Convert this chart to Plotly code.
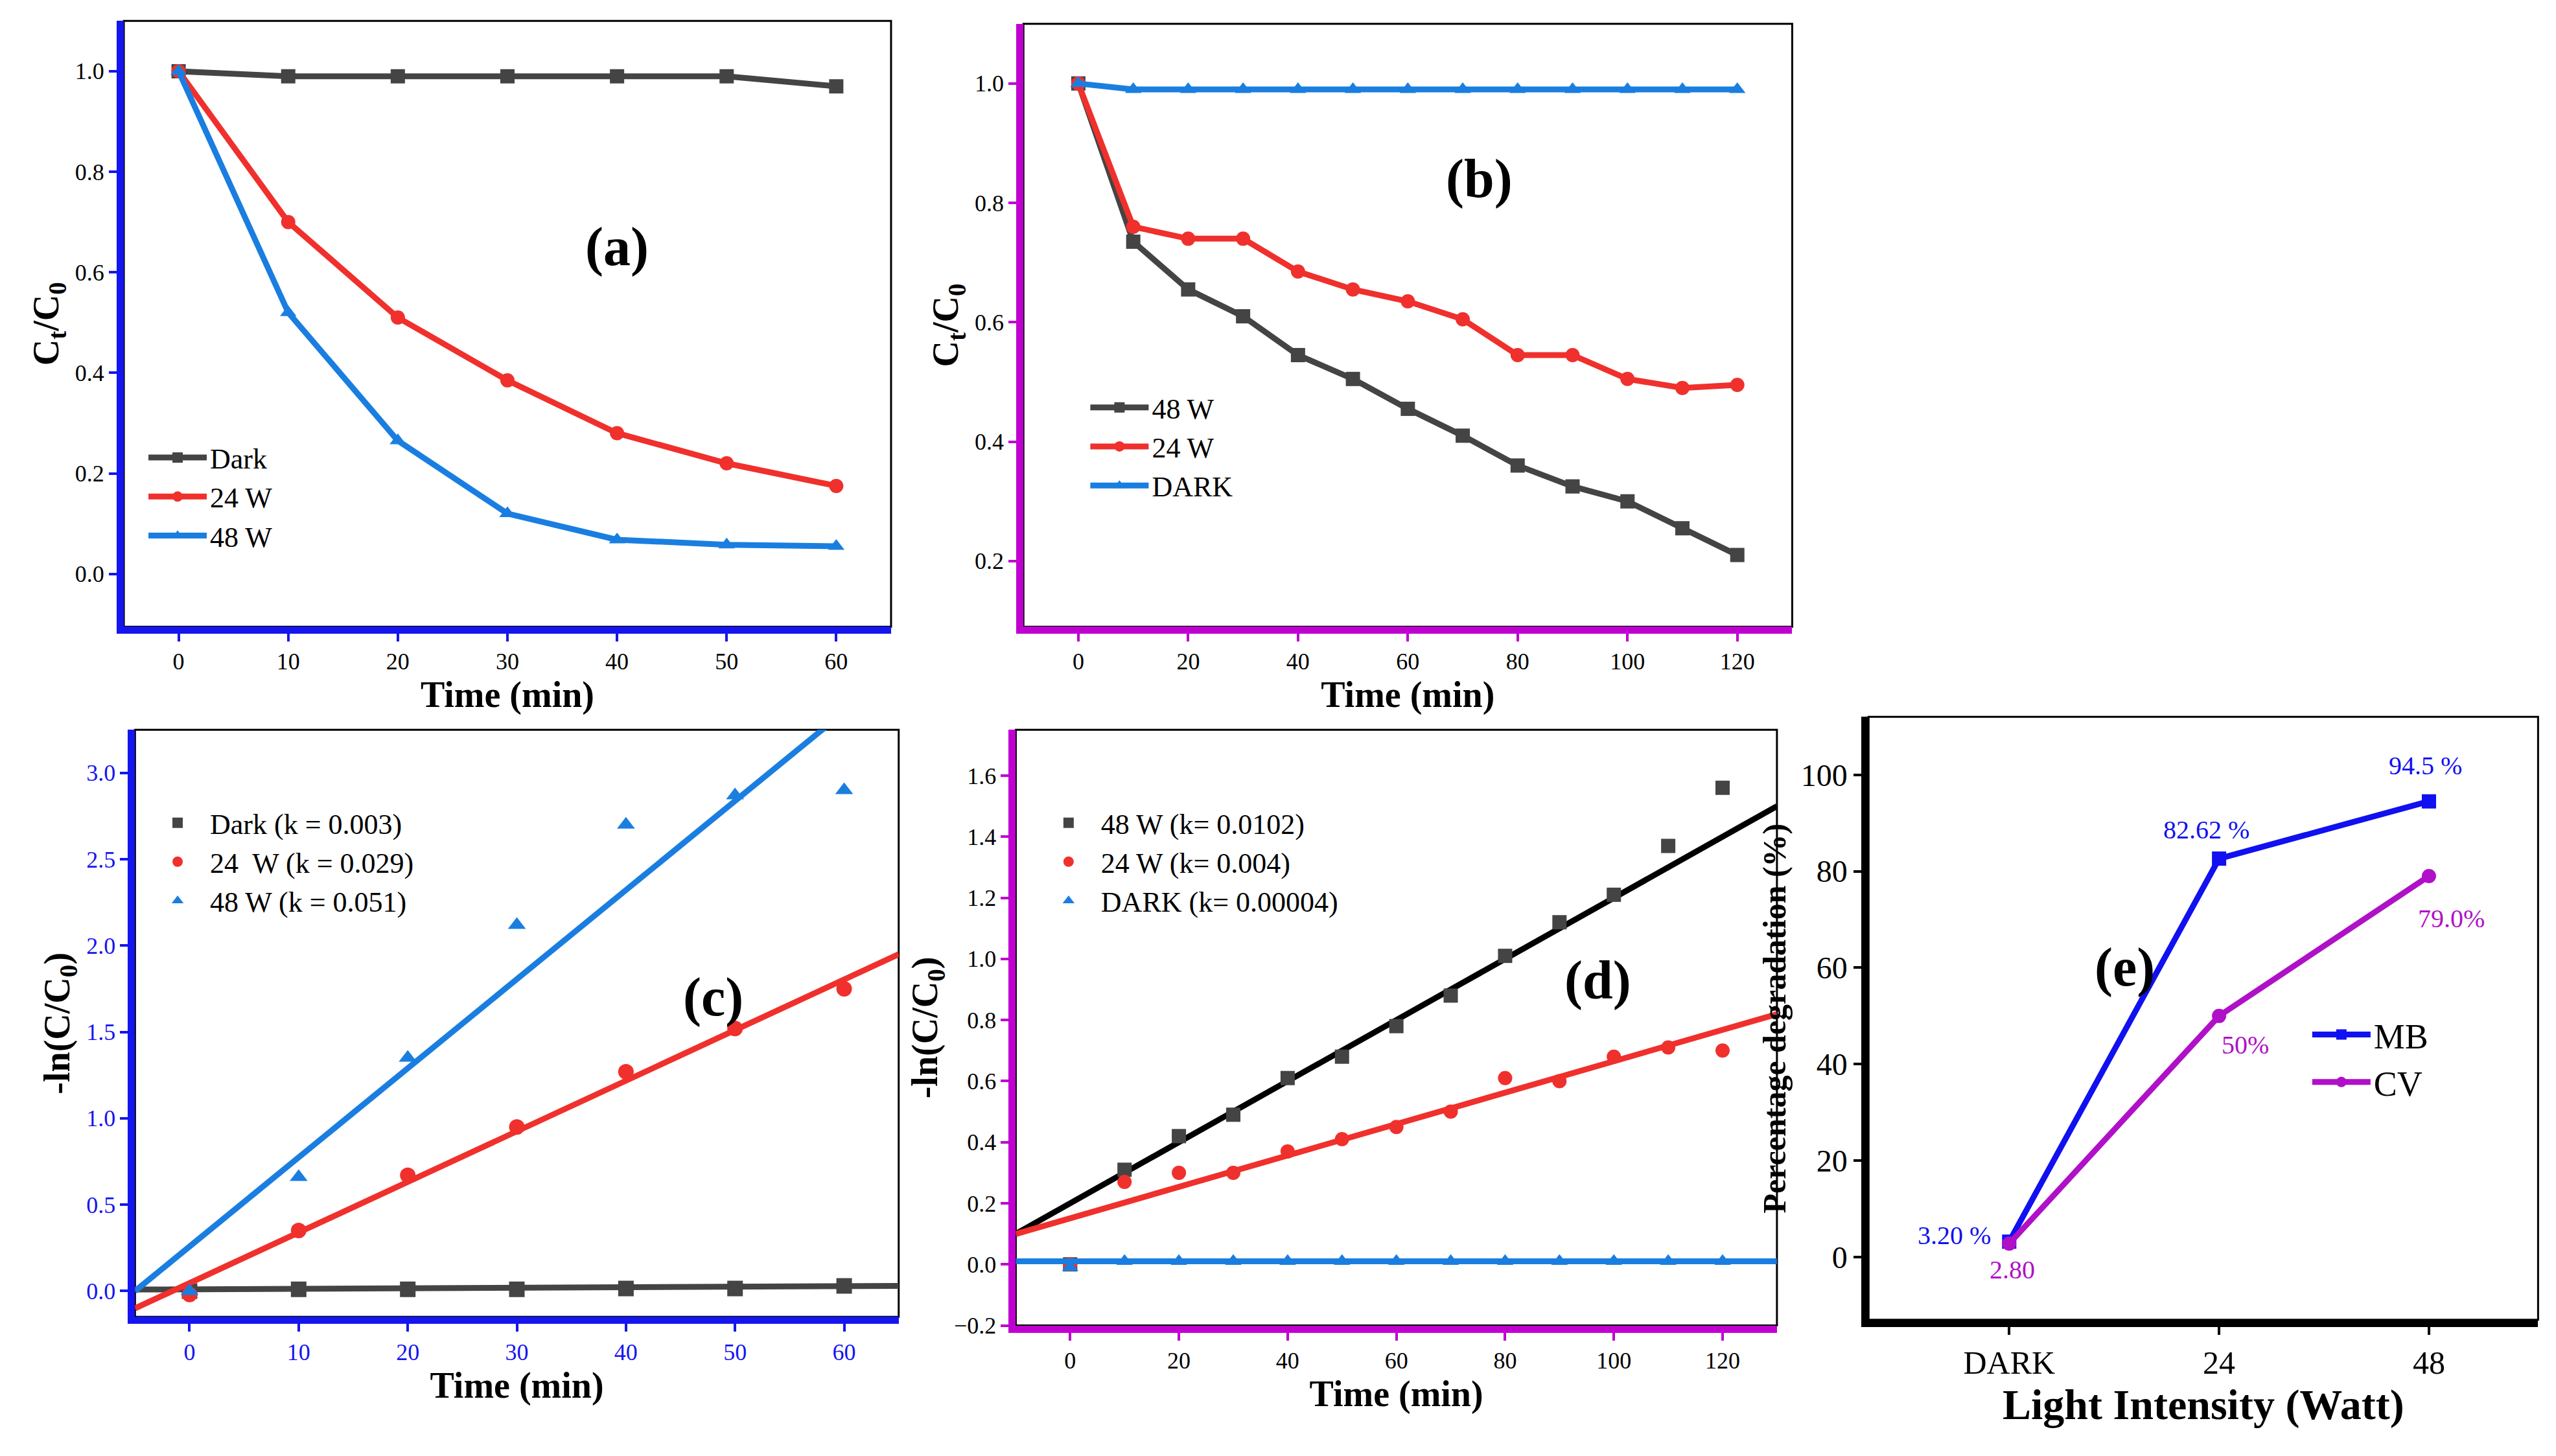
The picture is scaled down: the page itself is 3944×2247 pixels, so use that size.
import numpy as np
import plotly.graph_objects as go

# panel (a)
t_a = [0, 10, 20, 30, 40, 50, 60]
a_dark = [1.0, 0.99, 0.99, 0.99, 0.99, 0.99, 0.97]
a_24w = [1.0, 0.70, 0.51, 0.385, 0.28, 0.22, 0.175]
a_48w = [1.0, 0.52, 0.265, 0.12, 0.068, 0.058, 0.055]

# panel (b)
t_b = [0, 10, 20, 30, 40, 50, 60, 70, 80, 90, 100, 110, 120]
b_48w = [1.0, 0.735, 0.655, 0.61, 0.545, 0.505, 0.455, 0.41, 0.36, 0.325, 0.30, 0.255, 0.21]
b_24w = [1.0, 0.76, 0.74, 0.74, 0.685, 0.655, 0.635, 0.605, 0.545, 0.545, 0.505, 0.49, 0.495]
b_dark = [1.0, 0.99, 0.99, 0.99, 0.99, 0.99, 0.99, 0.99, 0.99, 0.99, 0.99, 0.99, 0.99]

# panel (c) points and fitted lines (slope, intercept)
c_dark = [0.0, 0.01, 0.01, 0.01, 0.015, 0.015, 0.03]
c_24w = [-0.02, 0.35, 0.67, 0.95, 1.27, 1.52, 1.75]
c_48w = [0.0, 0.66, 1.35, 2.12, 2.70, 2.87, 2.90]
c_fit = {"dark": (0.0003, 0.01), "24w": (0.0293, 0.046), "48w": (0.0516, 0.258)}

# panel (d)
d_48w = [0.0, 0.31, 0.42, 0.49, 0.61, 0.68, 0.78, 0.88, 1.01, 1.12, 1.21, 1.37, 1.56]
d_24w = [0.0, 0.27, 0.30, 0.30, 0.37, 0.41, 0.45, 0.50, 0.61, 0.60, 0.68, 0.71, 0.70]
d_dark = [-0.01, 0.01, 0.01, 0.01, 0.01, 0.01, 0.01, 0.01, 0.01, 0.01, 0.01, 0.01, 0.01]
d_fit = {"48w": (0.0100, 0.20), "24w": (0.00514, 0.151), "dark": (0.0, 0.01)}

# panel (e)
e_cats = ["DARK", "24", "48"]
e_mb = [3.2, 82.62, 94.5]
e_cv = [2.8, 50, 79.0]

GREY = "#444444"
RED = "#f0302c"
BLUE = "#1a7ee0"
AXBLUE = "#1515f0"
MAG = "#c000d0"
FONT = "Liberation Serif"

fig = go.Figure()

def line_tr(x, y, color, sym, name, xa, ya, leg, mode="lines+markers"):
    fig.add_trace(go.Scatter(x=x, y=y, mode=mode, name=name, xaxis=xa, yaxis=ya, legend=leg,
                             line=dict(color=color, width=9),
                             marker=dict(color=color, symbol=sym, size=22)))

# (a)
line_tr(t_a, a_dark, GREY, "square", "Dark", "x", "y", "legend")
line_tr(t_a, a_24w, RED, "circle", "24 W", "x", "y", "legend")
line_tr(t_a, a_48w, BLUE, "triangle-up", "48 W", "x", "y", "legend")
# (b)
line_tr(t_b, b_48w, GREY, "square", "48 W", "x2", "y2", "legend2")
line_tr(t_b, b_24w, RED, "circle", "24 W", "x2", "y2", "legend2")
line_tr(t_b, b_dark, BLUE, "triangle-up", "DARK", "x2", "y2", "legend2")

# (c)
xc = np.array([-5, 65])
for key, ys, col, sym, nm in [("dark", c_dark, GREY, "square", "Dark (k = 0.003)"),
                              ("24w", c_24w, RED, "circle", "24  W (k = 0.029)"),
                              ("48w", c_48w, BLUE, "triangle-up", "48 W (k = 0.051)")]:
    m, b = c_fit[key]
    fig.add_trace(go.Scatter(x=xc, y=m * xc + b, mode="lines", showlegend=False, xaxis="x3", yaxis="y3",
                             line=dict(color=col, width=9)))
    fig.add_trace(go.Scatter(x=t_a, y=ys, mode="markers", name=nm, xaxis="x3", yaxis="y3", legend="legend3",
                             marker=dict(color=col, symbol=sym, size=24)))

# (d)
xd = np.array([-10, 130])
for key, ys, col, sym, nm in [("48w", d_48w, "#111111", "square", "48 W (k= 0.0102)"),
                              ("24w", d_24w, RED, "circle", "24 W (k= 0.004)"),
                              ("dark", d_dark, BLUE, "triangle-up", "DARK (k= 0.00004)")]:
    m, b = d_fit[key]
    lc = "#000000" if key == "48w" else col
    fig.add_trace(go.Scatter(x=xd, y=m * xd + b, mode="lines", showlegend=False, xaxis="x4", yaxis="y4",
                             line=dict(color=lc, width=9)))
    mc = GREY if key == "48w" else col
    fig.add_trace(go.Scatter(x=t_b, y=ys, mode="markers", name=nm, xaxis="x4", yaxis="y4", legend="legend4",
                             marker=dict(color=mc, symbol=sym, size=22)))

# (e)
xe = list(range(len(e_cats)))
line_tr(xe, e_mb, "#1010f0", "square", "MB", "x5", "y5", "legend5")
line_tr(xe, e_cv, "#b010c8", "circle", "CV", "x5", "y5", "legend5")

titlef = dict(family=FONT, size=56, color="black")

def axis(dom, rng, anchor, color, dtick, title, tickcolor="black", **kw):
    return dict(domain=dom, range=rng, anchor=anchor, showline=True, linecolor=color, linewidth=11,
                ticks="outside", ticklen=12, tickwidth=4, tickcolor=color, dtick=dtick,
                showgrid=False, zeroline=False, title=dict(text=title, font=titlef, standoff=12),
                tickfont=dict(family=FONT, size=36, color=tickcolor), **kw)

dom = {
    "a": ([0.0466, 0.348], [0.566, 0.989]),
    "b": ([0.400, 0.702], [0.566, 0.987]),
    "c": ([0.051, 0.351], [0.084, 0.494]),
    "d": ([0.397, 0.696], [0.078, 0.494]),
    "e": ([0.732, 0.995], [0.082, 0.503]),
}

fig.update_layout(
    xaxis=axis(dom["a"][0], [-5, 65], "y", AXBLUE, 10, "<b>Time (min)</b>", tick0=0),
    yaxis=axis(dom["a"][1], [-0.105, 1.1], "x", AXBLUE, 0.2, "<b>C<sub>t</sub>/C<sub>0</sub></b>",
               tickformat=".1f"),
    xaxis2=axis(dom["b"][0], [-10, 130], "y2", MAG, 20, "<b>Time (min)</b>", tick0=0),
    yaxis2=axis(dom["b"][1], [0.09, 1.1], "x2", MAG, 0.2, "<b>C<sub>t</sub>/C<sub>0</sub></b>",
                tick0=0, tickformat=".1f"),
    xaxis3=axis(dom["c"][0], [-5, 65], "y3", AXBLUE, 10, "<b>Time (min)</b>", tickcolor=AXBLUE, tick0=0),
    yaxis3=axis(dom["c"][1], [-0.15, 3.25], "x3", AXBLUE, 0.5, "<b>-ln(C/C<sub>0</sub>)</b>",
                tickcolor=AXBLUE, tick0=0, tickformat=".1f"),
    xaxis4=axis(dom["d"][0], [-10, 130], "y4", MAG, 20, "<b>Time (min)</b>", tick0=0),
    yaxis4=axis(dom["d"][1], [-0.2, 1.75], "x4", MAG, 0.2, "<b>-ln(C/C<sub>0</sub>)</b>",
                tick0=0, tickformat=".1f"),
    xaxis5=axis(dom["e"][0], [-0.67, 2.52], "y5", "black", 1, "<b>Light Intensity (Watt)</b>",
                tickmode="array", tickvals=xe, ticktext=e_cats),
    yaxis5=axis(dom["e"][1], [-13, 112], "x5", "black", 20, "<b>Percentage degradation (%)</b>", tick0=0),
    plot_bgcolor="white", paper_bgcolor="white",
    margin=dict(l=0, r=0, t=0, b=0),
    font=dict(family=FONT, color="black"),
)
fig.layout.xaxis5.tickfont.size = 50
fig.layout.xaxis5.title.font.size = 66
fig.layout.yaxis5.tickfont.size = 48
fig.layout.yaxis5.title.font.size = 50

legf = dict(family=FONT, size=44, color="black")
for name, (x, y) in {"legend": (0.055, 0.70), "legend2": (0.425, 0.735), "legend3": (0.055, 0.445),
                     "legend4": (0.405, 0.445), "legend5": (0.905, 0.30)}.items():
    fig.update_layout({name: dict(x=x, y=y, xref="paper", yref="paper", xanchor="left", yanchor="top",
                                  bgcolor="rgba(0,0,0,0)", font=legf, itemwidth=90)})
fig.layout.legend5.font.size = 54

# thin frame on top/right of each panel
for i, k in enumerate("abcde"):
    sfx = "" if i == 0 else str(i + 1)
    fig.add_shape(type="rect", xref=f"x{sfx} domain", yref=f"y{sfx} domain", x0=0, x1=1, y0=0, y1=1,
                  line=dict(color="black", width=3), layer="below")

labels = [("(a)", "x", "y", 40, 0.65), ("(b)", "x2", "y2", 73, 0.84), ("(c)", "x3", "y3", 48, 1.7),
          ("(d)", "x4", "y4", 97, 0.93), ("(e)", "x5", "y5", 0.55, 60)]
for txt, xa, ya, x, y in labels:
    fig.add_annotation(text=f"<b>{txt}</b>", x=x, y=y, xref=xa, yref=ya, showarrow=False,
                       font=dict(family=FONT, size=84, color="black"))

elab = [("3.20 %", 0, e_mb[0], "#1010f0", -85, -10), ("2.80", 0, e_cv[0], "#b010c8", 5, 40),
        ("82.62 %", 1, e_mb[1], "#1010f0", -20, -45), ("50%", 1, e_cv[1], "#b010c8", 40, 45),
        ("94.5 %", 2, e_mb[2], "#1010f0", -5, -55), ("79.0%", 2, e_cv[2], "#b010c8", 35, 65)]
for txt, x, y, col, ax, ay in elab:
    fig.add_annotation(text=txt, x=x, y=y, xref="x5", yref="y5", showarrow=False, xshift=ax, yshift=-ay,
                       font=dict(family=FONT, size=40, color=col))

fig.write_html("out.html")
